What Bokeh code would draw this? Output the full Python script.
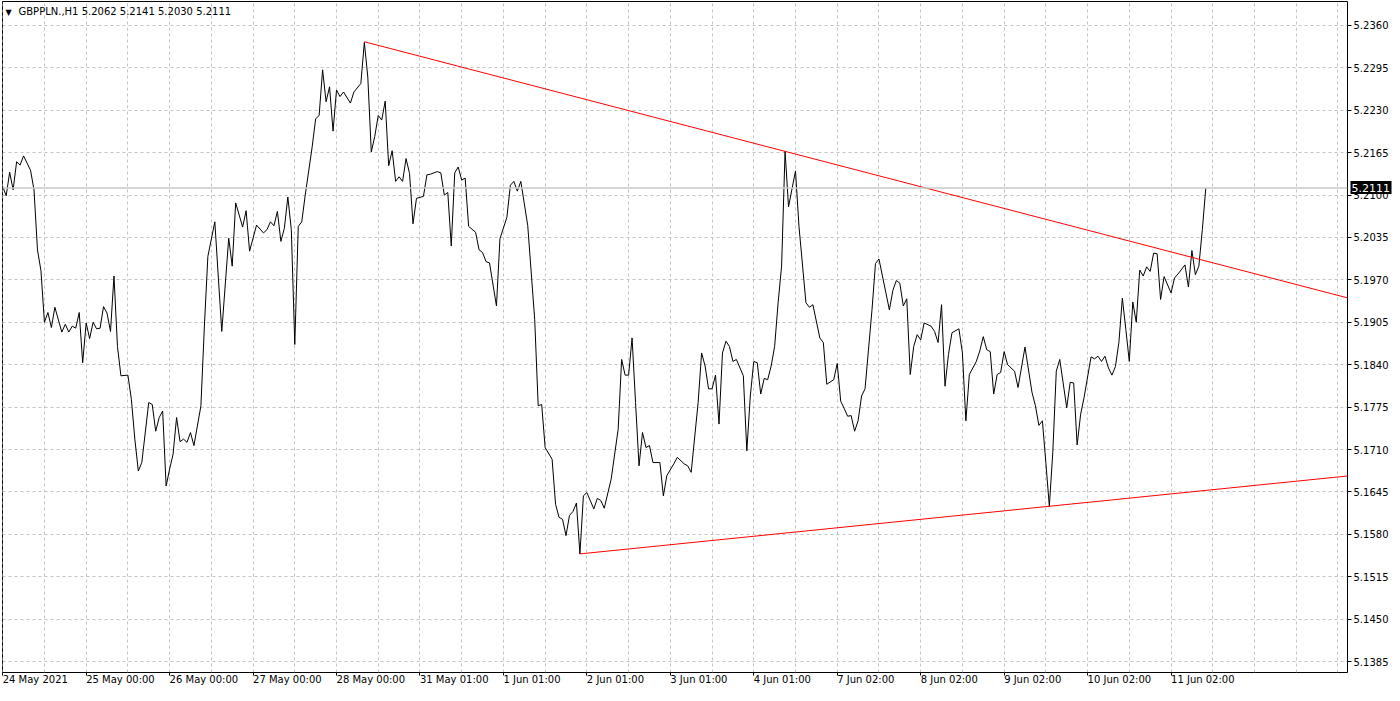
from bokeh.plotting import figure
from bokeh.models import Range1d, FixedTicker, PrintfTickFormatter, Label, Span, LinearAxis
from bokeh.embed import file_html
from bokeh.resources import INLINE

# ---- data (hour-bar index, close price) ----
bars = [0, 1, 2, 3, 4, 5, 6, 7, 8, 9, 10, 11, 12, 13, 14, 15, 17, 18, 19, 20,
        21, 22, 23, 24, 25, 26, 27, 28, 29, 30, 31, 32, 33, 34, 36, 37, 38, 39, 40, 42,
        43, 44, 45, 46, 47, 48, 49, 50, 51, 52, 53, 54, 55, 57, 58, 59, 61, 63, 65, 66,
        67, 69, 70, 71, 73, 75, 76, 77, 78, 79, 80, 81, 82, 83, 84, 85, 86, 87, 89, 90,
        91, 92, 93, 94, 95, 96, 97, 98, 100, 101, 103, 104, 105, 106, 107, 108, 109, 110, 111, 112,
        113, 114, 115, 116, 117, 118, 119, 121, 122, 123, 125, 126, 127, 128, 129, 130, 131, 132, 133, 134,
        136, 137, 138, 139, 140, 142, 143, 145, 146, 147, 148, 149, 151, 153, 154, 155, 156, 158, 159, 160,
        161, 162, 163, 164, 165, 166, 167, 168, 170, 171, 172, 173, 175, 177, 178, 179, 180, 181, 182, 183,
        184, 185, 186, 187, 189, 190, 191, 193, 194, 196, 197, 198, 200, 201, 202, 203, 204, 205, 206, 207,
        208, 209, 210, 211, 213, 214, 215, 216, 217, 218, 219, 220, 221, 222, 223, 224, 225, 226, 228, 229,
        231, 232, 233, 235, 236, 237, 239, 240, 241, 242, 243, 244, 245, 246, 247, 248, 250, 251, 252, 254,
        255, 256, 257, 258, 259, 260, 261, 262, 263, 264, 265, 267, 268, 269, 270, 271, 272, 273, 275, 276,
        277, 278, 280, 281, 282, 283, 284, 285, 286, 287, 288, 289, 291, 292, 294, 296, 297, 298, 299, 300,
        301, 302, 303, 304, 306, 307, 308, 309, 310, 311, 313, 314, 315, 316, 317, 318, 319, 320, 321, 322,
        323, 324, 325, 326, 327, 328, 329, 330, 331, 332, 333, 334, 336, 337, 338, 340, 341, 342, 343, 344,
        345, 346]
closes = [5.2113, 5.2099, 5.2135, 5.2108, 5.2151, 5.2146, 5.2160, 5.2149, 5.2138, 5.2108,
          5.2016, 5.1984, 5.1905, 5.1920, 5.1897, 5.1928, 5.1890, 5.1902, 5.1890, 5.1899,
          5.1896, 5.1920, 5.1843, 5.1904, 5.1880, 5.1905, 5.1895, 5.1896, 5.1929, 5.1919,
          5.1891, 5.1976, 5.1868, 5.1823, 5.1824, 5.1787, 5.1726, 5.1677, 5.1690, 5.1782,
          5.1779, 5.1738, 5.1759, 5.1769, 5.1654, 5.1680, 5.1703, 5.1759, 5.1722, 5.1726,
          5.1721, 5.1736, 5.1716, 5.1777, 5.1899, 5.2006, 5.2059, 5.1891, 5.2034, 5.1991,
          5.2088, 5.2051, 5.2076, 5.2014, 5.2054, 5.2042, 5.2047, 5.2059, 5.2053, 5.2075,
          5.2029, 5.2049, 5.2097, 5.2047, 5.1871, 5.2052, 5.2059, 5.2100, 5.2174, 5.2217,
          5.2222, 5.2292, 5.2243, 5.2266, 5.2198, 5.2261, 5.2251, 5.2258, 5.2241, 5.2258,
          5.2271, 5.2334, 5.2281, 5.2166, 5.2190, 5.2222, 5.2215, 5.2244, 5.2145, 5.2168,
          5.2121, 5.2128, 5.2121, 5.2156, 5.2133, 5.2056, 5.2095, 5.2098, 5.2131, 5.2132,
          5.2136, 5.2134, 5.2100, 5.2104, 5.2022, 5.2134, 5.2143, 5.2123, 5.2126, 5.2052,
          5.2043, 5.2016, 5.2012, 5.1998, 5.1996, 5.1930, 5.2033, 5.2066, 5.2115, 5.2121,
          5.2106, 5.2121, 5.2053, 5.1909, 5.1777, 5.1779, 5.1713, 5.1695, 5.1626, 5.1606,
          5.1603, 5.1578, 5.1609, 5.1615, 5.1628, 5.1550, 5.1639, 5.1644, 5.1619, 5.1635,
          5.1632, 5.1620, 5.1665, 5.1741, 5.1848, 5.1824, 5.1824, 5.1881, 5.1782, 5.1685,
          5.1736, 5.1713, 5.1716, 5.1690, 5.1690, 5.1639, 5.1670, 5.1688, 5.1698, 5.1688,
          5.1685, 5.1675, 5.1782, 5.1858, 5.1838, 5.1803, 5.1803, 5.1824, 5.1749, 5.1858,
          5.1876, 5.1868, 5.1845, 5.1848, 5.1823, 5.1708, 5.1792, 5.1845, 5.1843, 5.1795,
          5.1819, 5.1817, 5.1838, 5.1868, 5.1935, 5.1991, 5.2167, 5.2082, 5.2137, 5.2052,
          5.1935, 5.1928, 5.1932, 5.1881, 5.1874, 5.1810, 5.1817, 5.1842, 5.1784, 5.1773,
          5.1761, 5.1762, 5.1738, 5.1754, 5.1792, 5.1803, 5.1924, 5.1995, 5.2002, 5.1950,
          5.1924, 5.1954, 5.1969, 5.1965, 5.1930, 5.1941, 5.1825, 5.1868, 5.1886, 5.1878,
          5.1904, 5.1899, 5.1891, 5.1874, 5.1932, 5.1807, 5.1856, 5.1889, 5.1895, 5.1858,
          5.1754, 5.1825, 5.1845, 5.1861, 5.1883, 5.1863, 5.1860, 5.1795, 5.1825, 5.1828,
          5.1860, 5.1840, 5.1830, 5.1805, 5.1867, 5.1798, 5.1777, 5.1747, 5.1754, 5.1690,
          5.1623, 5.1706, 5.1830, 5.1848, 5.1774, 5.1813, 5.1812, 5.1717, 5.1764, 5.1790,
          5.1852, 5.1849, 5.1853, 5.1845, 5.1853, 5.1835, 5.1824, 5.1837, 5.1874, 5.1942,
          5.1894, 5.1845, 5.1936, 5.1905, 5.1985, 5.1976, 5.1990, 5.1983, 5.2011, 5.2010,
          5.1940, 5.1975, 5.1950, 5.1973, 5.1979, 5.1993, 5.1959, 5.2015, 5.1978, 5.1991,
          5.2047, 5.2111]

# trend lines: two anchor points each (bar, price), drawn as rays to the right
upper_bars = [104, 225]
upper_prices = [5.2335, 5.2167]
lower_bars = [166, 301]
lower_prices = [5.1550, 5.1623]

# axis ticks and labels
y_ticks = [5.1385, 5.1450, 5.1515, 5.1580, 5.1645, 5.1710, 5.1775, 5.1840,
           5.1905, 5.1970, 5.2035, 5.2100, 5.2165, 5.2230, 5.2295, 5.2360]
x_tick_bars = [0, 24, 48, 72, 96, 120, 144, 168, 192, 216, 240, 264, 288, 312, 336]
x_tick_labels = ["24 May 2021", "25 May 00:00", "26 May 00:00", "27 May 00:00",
                 "28 May 00:00", "31 May 01:00", "1 Jun 01:00", "2 Jun 01:00",
                 "3 Jun 01:00", "4 Jun 01:00", "7 Jun 02:00", "8 Jun 02:00",
                 "9 Jun 02:00", "10 Jun 02:00", "11 Jun 02:00"]
x_grid_bars = list(range(0, 396, 12))

title_text = "GBPPLN.,H1  5.2062 5.2141 5.2030 5.2111"
last_price = 5.2111

FONT = "DejaVu Sans"
X0, X1 = -0.06, 386.75
Y0, Y1 = 5.13682, 5.23967

p = figure(width=1392, height=693, output_backend="svg", toolbar_location=None,
           x_range=Range1d(X0, X1), y_range=Range1d(Y0, Y1),
           y_axis_location="right",
           min_border_left=2, min_border_top=1, min_border_right=42, min_border_bottom=19)
p.background_fill_color = "white"
p.border_fill_color = "white"
p.outline_line_color = "black"
p.outline_line_width = 1

# grid
p.xgrid.ticker = FixedTicker(ticks=x_grid_bars)
p.ygrid.ticker = FixedTicker(ticks=y_ticks)
for g in (p.xgrid[0], p.ygrid[0]):
    g.grid_line_color = "#c4c4c4"
    g.grid_line_dash = "3 3"
    g.grid_line_width = 1

# time axis (labels start at their tick, as in the original)
xa = p.xaxis[0]
xa.ticker = FixedTicker(ticks=x_tick_bars)
xa.major_label_overrides = {b: t for b, t in zip(x_tick_bars, x_tick_labels)}
xa.axis_line_color = None
xa.major_tick_out = 3
xa.major_tick_in = 0
xa.major_tick_line_color = "black"
xa.minor_tick_line_color = None
xa.major_label_standoff = 4
xa.major_label_orientation = -1e-6
xa.major_label_text_font = FONT
xa.major_label_text_font_size = "10px"
xa.major_label_text_color = "black"

# price axis
ya = p.yaxis[0]
ya.ticker = FixedTicker(ticks=y_ticks)
ya.formatter = PrintfTickFormatter(format="%.4f")
ya.axis_line_color = None
ya.major_tick_out = 4
ya.major_tick_in = 0
ya.major_tick_line_color = "black"
ya.minor_tick_line_color = None
ya.major_label_standoff = 2
ya.major_label_text_font = FONT
ya.major_label_text_font_size = "10px"
ya.major_label_text_color = "black"

# last-price tag: an extra price axis with one tick drawn as a black box
tag = LinearAxis(ticker=FixedTicker(ticks=[last_price]),
                 formatter=PrintfTickFormatter(format="%.4f"))
tag.axis_line_color = None
tag.minor_tick_line_color = None
tag.major_tick_in = 41
tag.major_tick_out = 0
tag.major_tick_line_color = "black"
tag.major_tick_line_width = 13
tag.major_tick_line_cap = "butt"
tag.major_label_standoff = -40
tag.major_label_text_font = FONT
tag.major_label_text_font_size = "11px"
tag.major_label_text_color = "white"
p.add_layout(tag, "right")

# bid line
p.add_layout(Span(location=last_price, dimension="width", line_color="#c8c8c8", line_width=1.5))

# price line
p.line(bars, closes, line_color="black", line_width=1)

# trend lines (rays extended to the right edge)
def ray(bx, py):
    slope = (py[1] - py[0]) / (bx[1] - bx[0])
    xe = X1 + 5
    return [bx[0], xe], [py[0], py[0] + slope * (xe - bx[0])]

ux, uy = ray(upper_bars, upper_prices)
lx, ly = ray(lower_bars, lower_prices)
p.line(ux, uy, line_color="#ff0000", line_width=1)
p.line(lx, ly, line_color="#ff0000", line_width=1)

# title
p.add_layout(Label(x=X0, y=Y1, x_offset=3, y_offset=-6, text="\u25bc", text_font=FONT,
                   text_font_size="8px", text_color="black", text_baseline="top"))
p.add_layout(Label(x=X0, y=Y1, x_offset=16, y_offset=-4, text=title_text, text_font=FONT,
                   text_font_size="10px", text_color="black", text_baseline="top"))

open("out.html", "w").write(file_html(p, INLINE))
